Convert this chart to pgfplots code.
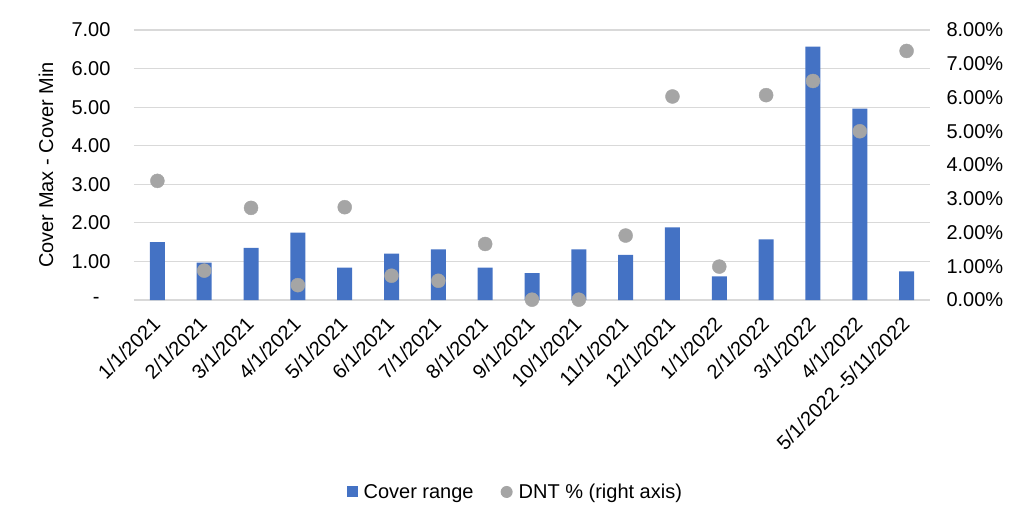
\documentclass[border=0pt]{standalone}
\usepackage{pgfplots}
\pgfplotsset{compat=1.18}
\usepackage{fontspec}
\setmainfont{Liberation Sans}
\definecolor{barblue}{HTML}{4472C4}
\definecolor{dotgray}{HTML}{A5A5A5}
\definecolor{gridgray}{HTML}{D9D9D9}

\begin{document}
\begin{tikzpicture}[font=\fontsize{20}{24}\selectfont]
\pgfplotsset{
  every axis/.append style={
    scale only axis, width=796pt, height=270pt,
    xmin=-0.5, xmax=16.5,
    axis line style={draw=none},
    major tick length=0pt,
    tick label style={font=\fontsize{20}{24}\selectfont},
    label style={font=\fontsize{20}{24}\selectfont},
  }
}
% left axis: cover range bars
\begin{axis}[
  ymin=0, ymax=7,
  ytick={0,1,2,3,4,5,6,7},
  yticklabels={-\hspace*{11pt},1.00,2.00,3.00,4.00,5.00,6.00,7.00},
  yticklabel style={xshift=-20pt},
  ymajorgrids,
  grid style={gridgray, line width=1.2pt},
  xtick={0,...,16},
  xticklabels={1/1/2021,2/1/2021,3/1/2021,4/1/2021,5/1/2021,6/1/2021,7/1/2021,8/1/2021,9/1/2021,10/1/2021,11/1/2021,12/1/2021,1/1/2022,2/1/2022,3/1/2022,4/1/2022,5/1/2022 -5/11/2022},
  xticklabel style={rotate=45, anchor=east, xshift=-11.7pt, yshift=-13.8pt},
  ylabel={Cover Max - Cover Min},
  ylabel style={at={(axis description cs:-0.1106,0.5)}, anchor=center},
]
\addplot[ybar, bar width=15pt, fill=barblue, draw=none] coordinates {
  (0,1.50) (1,0.97) (2,1.35) (3,1.75) (4,0.84) (5,1.20) (6,1.31) (7,0.84)
  (8,0.70) (9,1.31) (10,1.17) (11,1.88) (12,0.61) (13,1.57) (14,6.57)
  (15,4.96) (16,0.74)
};
\end{axis}
% right axis: DNT %
\begin{axis}[
  axis y line*=right,
  axis x line=none,
  ymin=0, ymax=8,
  ytick={0,1,2,3,4,5,6,7,8},
  yticklabels={0.00\%,1.00\%,2.00\%,3.00\%,4.00\%,5.00\%,6.00\%,7.00\%,8.00\%},
  yticklabel style={xshift=13pt},
  xtick=\empty,
  clip=false,
  legend style={at={(axis description cs:0.479,-0.711)}, anchor=center,
    draw=none, fill=none, legend columns=2,
    font=\fontsize{20}{24}\selectfont,
    /tikz/every even column/.append style={column sep=25pt}},
  legend cell align=left,
]
\addlegendimage{legend image code/.code={
  \path[draw=none, fill=none] (0pt,0pt) rectangle (15pt,1pt);
  \fill[barblue, draw=none] (0pt,-5.5pt) rectangle (11pt,5.5pt);}}
\addlegendentry{Cover range}
\addplot[only marks, mark=*, mark size=7pt, mark options={fill=dotgray, draw=dotgray},
  legend image code/.code={
    \path[draw=none, fill=none] (0pt,0pt) rectangle (16pt,1pt);
    \fill[dotgray, draw=none] (6pt,0pt) circle (6pt);}] coordinates {
  (0,3.53) (1,0.87) (2,2.73) (3,0.44) (4,2.75) (5,0.72) (6,0.57) (7,1.66)
  (8,0.01) (9,0.01) (10,1.91) (11,6.03) (12,0.99) (13,6.07) (14,6.49)
  (15,5.00) (16,7.38)
};
\addlegendentry{DNT \% (right axis)}
\end{axis}
\pgfresetboundingbox
\path (-134pt,-228pt) rectangle (890pt,300pt);
\end{tikzpicture}
\end{document}
